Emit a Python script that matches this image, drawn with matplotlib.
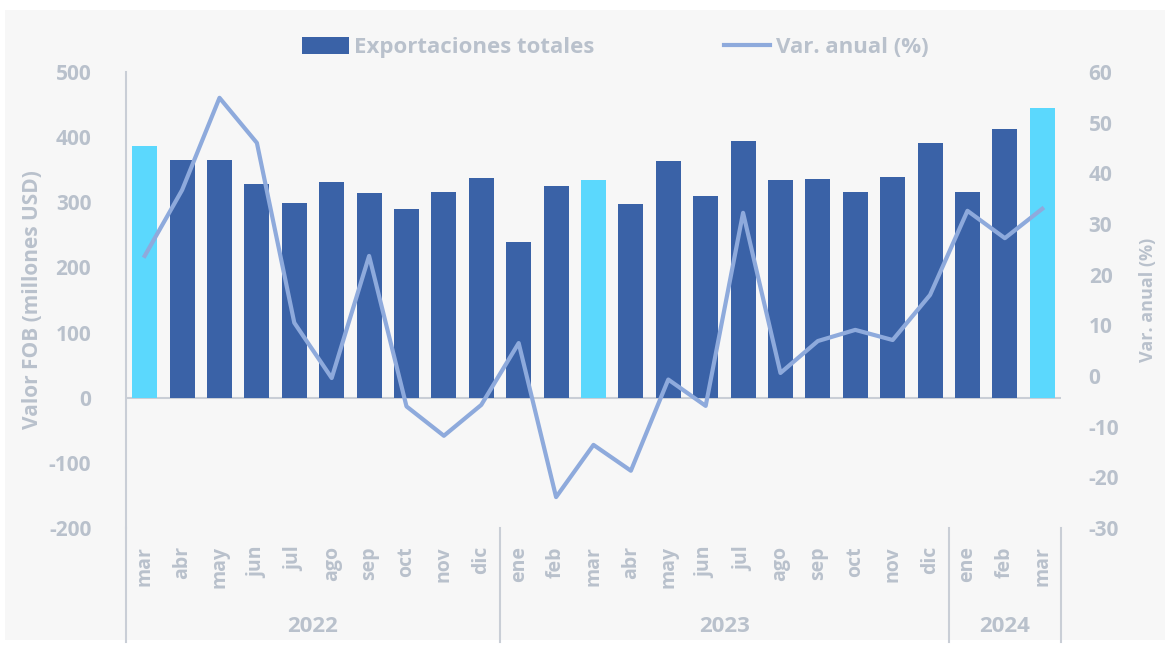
import numpy as np
import matplotlib
matplotlib.use('Agg')
import matplotlib.pyplot as plt
from matplotlib.patches import Rectangle, Patch
from matplotlib.lines import Line2D
import matplotlib.transforms as mtransforms

# Data
months = ["mar", "abr", "may", "jun", "jul", "ago", "sep", "oct", "nov", "dic",
          "ene", "feb", "mar", "abr", "may", "jun", "jul", "ago", "sep", "oct",
          "nov", "dic", "ene", "feb", "mar"]
years = ["2022", "2023", "2024"]
year_counts = [10, 12, 3]
exports = [386, 365, 365, 328, 299, 331, 314, 290, 316, 337,
           239, 325, 334, 297, 363, 309, 394, 334, 336, 316,
           339, 391, 316, 412, 445]
var_anual = [23.7, 36.7, 54.9, 46.0, 10.5, -0.4, 23.7, -6.0, -11.8, -5.7,
             6.5, -23.9, -13.6, -18.7, -0.7, -5.9, 32.2, 0.6, 6.9, 9.1,
             7.1, 16.0, 32.6, 27.2, 33.0]
highlight = [0, 12, 24]

dark = "#3a62a7"
light = "#5bd8fd"
line_c = "#8eaadc"
txt = "#b9c1cc"
axc = "#c9ced6"
bg = "#f7f7f7"

plt.rcParams['font.family'] = ['Open Sans', 'DejaVu Sans']
plt.rcParams['font.weight'] = 'bold'
plt.rcParams['axes.labelweight'] = 'bold'
plt.rcParams['axes.unicode_minus'] = False

fig = plt.figure(figsize=(11.7, 6.45), dpi=100, facecolor="white")
fig.patches.append(Rectangle((5 / 1170, 5 / 645), 1160 / 1170, 630 / 645,
                             transform=fig.transFigure, facecolor=bg,
                             edgecolor="none", zorder=-10))

ax = fig.add_axes([0.1077, 0.1814, 0.7991, 0.7070])
ax.set_facecolor("none")
x = np.arange(len(months))
colors = [light if i in highlight else dark for i in x]
ax.bar(x, exports, width=0.67, color=colors, zorder=2)
ax.set_xlim(-0.5, 24.5)
ax.set_ylim(-200, 500)
ax.set_yticks(np.arange(-200, 501, 100))
ax.axhline(0, color=axc, lw=1.5, zorder=1)

for s in ["top", "right", "bottom"]:
    ax.spines[s].set_visible(False)
ax.spines["left"].set_color(axc)
ax.spines["left"].set_linewidth(1.5)
ax.tick_params(axis="y", length=0, pad=25, labelcolor=txt)
ax.set_yticklabels([str(v) for v in range(-200, 501, 100)], fontsize=15,
                   fontweight="bold")
ax.set_xticks(x)
ax.set_xticklabels(months, rotation=90, fontsize=14, color=txt,
                   fontweight="bold")
ax.tick_params(axis="x", length=0, pad=13)
ax.set_ylabel("Valor FOB (millones USD)", fontsize=15, color=txt,
              labelpad=4, fontweight="bold")

ax2 = ax.twinx()
ax2.set_ylim(-30, 60)
ax2.set_yticks(np.arange(-30, 61, 10))
ax2.set_yticklabels([str(v) for v in range(-30, 61, 10)], fontsize=15,
                    fontweight="bold")
ax2.plot(x, var_anual, color=line_c, lw=3, zorder=3)
for s in ax2.spines.values():
    s.set_visible(False)
ax2.tick_params(axis="y", length=0, pad=20, labelcolor=txt)
ax2.set_ylabel("Var. anual (%)", fontsize=13, color=txt, labelpad=14,
               fontweight="bold")

# year groups and separators
trans = mtransforms.blended_transform_factory(ax.transData, ax.transAxes)
start = 0
bounds = [-0.5]
for yr, n in zip(years, year_counts):
    end = start + n
    ax.text((start + end - 1) / 2, -0.217, yr, transform=trans, ha="center",
            va="center", fontsize=16, color=txt, fontweight="bold")
    bounds.append(end - 0.5)
    start = end
for b in bounds:
    ax.add_line(Line2D([b, b], [0, -0.25], transform=trans, color=axc,
                       lw=1.5, clip_on=False))

handles = [Patch(facecolor=dark), Line2D([], [], color=line_c, lw=3)]
fig.legend(handles, ["Exportaciones totales", "Var. anual (%)"],
           loc="center", bbox_to_anchor=(0.526, 0.926), ncol=2, frameon=False,
           prop={"size": 16, "weight": "bold"}, labelcolor=txt,
           handlelength=2.1, handleheight=0.75, handletextpad=0.25,
           columnspacing=5.8)

fig.savefig("out.png", dpi=100, facecolor=fig.get_facecolor())
